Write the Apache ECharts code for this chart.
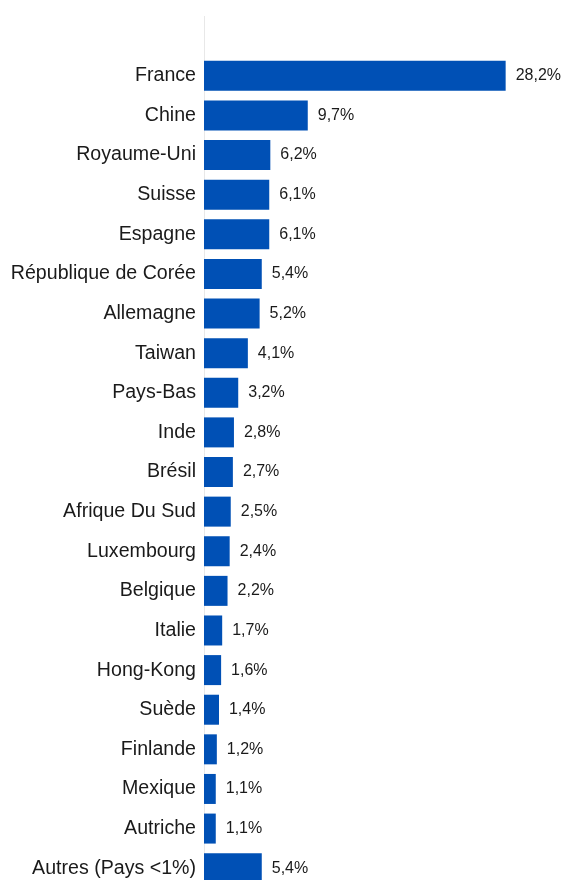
<!DOCTYPE html>
<html>
<head>
<meta charset="utf-8">
<script src="https://cdn.jsdelivr.net/npm/echarts@6/dist/echarts.min.js"></script>
<style>
  html, body { margin: 0; padding: 0; background: #fff; overflow: hidden; }
  /* un peu plus haut que la fenêtre : la dernière barre est coupée en bas */
  #chart { width: 563px; height: 888px; }
</style>
</head>
<body>
<div id="chart"></div>
<script>
// pays (de haut en bas)
const pays = ['France', 'Chine', 'Royaume-Uni', 'Suisse', 'Espagne', 'République de Corée',
  'Allemagne', 'Taiwan', 'Pays-Bas', 'Inde', 'Brésil', 'Afrique Du Sud', 'Luxembourg',
  'Belgique', 'Italie', 'Hong-Kong', 'Suède', 'Finlande', 'Mexique', 'Autriche', 'Autres (Pays <1%)'];
const parts = [28.2, 9.7, 6.2, 6.1, 6.1, 5.4, 5.2, 4.1, 3.2, 2.8, 2.7, 2.5, 2.4, 2.2, 1.7, 1.6, 1.4, 1.2, 1.1, 1.1, 5.4];

// une ligne vide en haut pour prolonger l'axe
const categories = [''].concat(pays);
const values = ['-'].concat(parts);

const chart = echarts.init(document.getElementById('chart'));
chart.setOption({
  animation: false,
  grid: { left: 204, right: 6, top: 16.4, bottom: 0, containLabel: false },
  xAxis: {
    type: 'value',
    min: 0,
    max: 33,
    show: false
  },
  yAxis: {
    type: 'category',
    inverse: true,
    data: categories,
    axisLine: { show: true, lineStyle: { color: '#e8e8e8', width: 1 } },
    axisTick: { show: false },
    axisLabel: {
      color: '#1a1a1a',
      fontSize: 19.6,
      fontFamily: 'Liberation Sans, Arial, sans-serif',
      margin: 8
    }
  },
  series: [{
    type: 'bar',
    data: values,
    barWidth: 30,
    itemStyle: { color: '#0050b5' },
    label: {
      show: true,
      position: 'right',
      distance: 10,
      color: '#1a1a1a',
      fontSize: 16,
      fontFamily: 'Liberation Sans, Arial, sans-serif',
      formatter: p => p.value.toFixed(1).replace('.', ',') + '%'
    }
  }]
});
</script>
</body>
</html>
